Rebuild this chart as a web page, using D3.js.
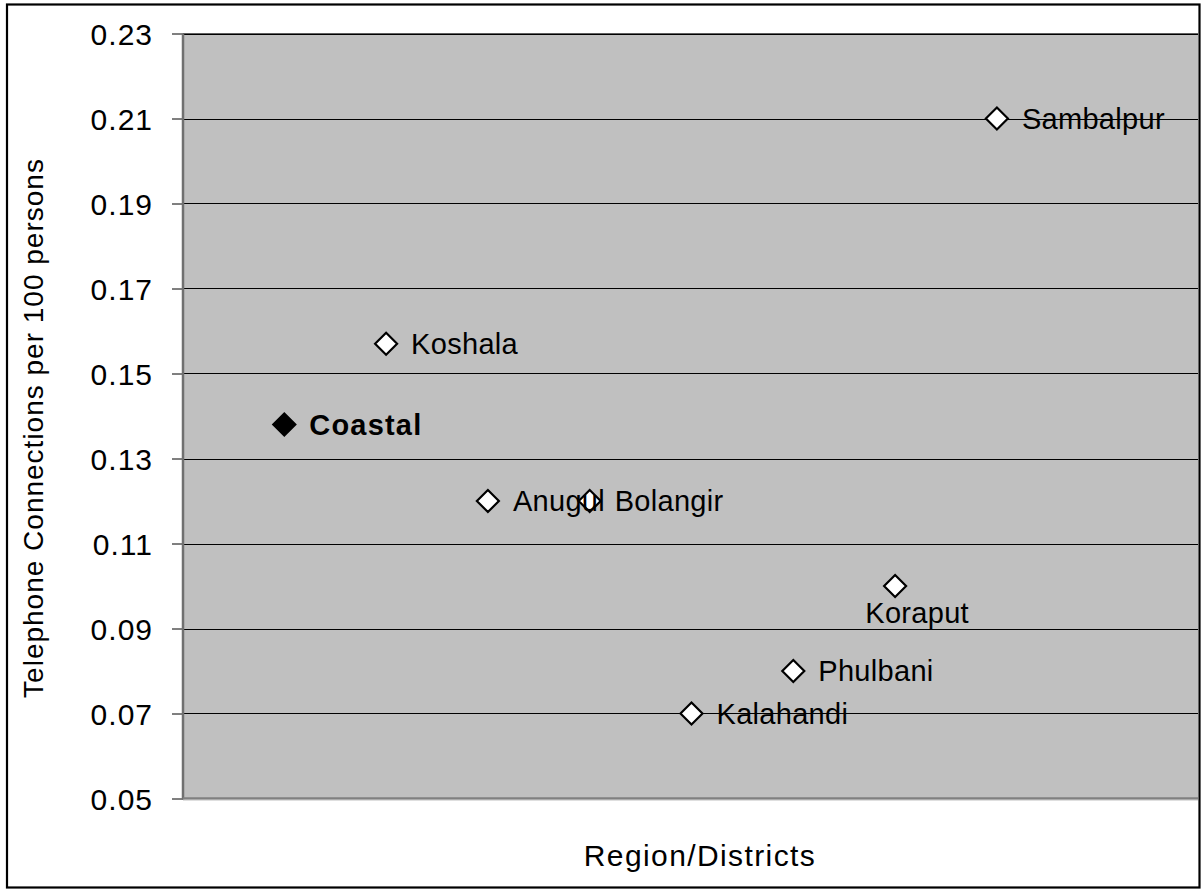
<!DOCTYPE html>
<html><head><meta charset="utf-8">
<script src="https://cdn.jsdelivr.net/npm/d3@7"></script>
<style>body{margin:0;background:#fff}</style>
</head><body>
<svg id="c" width="1203" height="890"></svg>
<script>
const categories = ["Coastal","Koshala","Anugul","Bolangir","Kalahandi","Phulbani","Koraput","Sambalpur"];
const values = [0.138,0.157,0.12,0.12,0.07,0.08,0.10,0.21];
const positions = [1,2,3,4,5,6,7,8];
const yTicks = [0.05,0.07,0.09,0.11,0.13,0.15,0.17,0.19,0.21,0.23];
const yTitle = "Telephone Connections per 100 persons";
const xTitle = "Region/Districts";

const svg = d3.select("#c");
const font = "Liberation Sans, Arial, sans-serif";
const L = 183, R = 1198, T = 33.5, B = 798.5;
const x = d3.scaleLinear().domain([0,10]).range([182.5,1200.5]);
const y = d3.scaleLinear().domain([0.05,0.23]).range([B,T]);

// outer frame
svg.append("rect").attr("x",7).attr("y",4.5).attr("width",1192.5).attr("height",883)
  .attr("fill","#fff").attr("stroke","#000").attr("stroke-width",2.2);

// plot area
svg.append("rect").attr("x",L).attr("y",T).attr("width",R-L).attr("height",B-T).attr("fill","#c0c0c0");

// gridlines
svg.append("g").selectAll("line").data(yTicks.slice(1)).join("line")
  .attr("x1",L).attr("x2",R).attr("y1",d=>Math.round(y(d))+0.5).attr("y2",d=>Math.round(y(d))+0.5)
  .attr("stroke","#000").attr("stroke-width",1);

// y axis
const yAxis = d3.axisLeft(y).tickValues(yTicks).tickFormat(d3.format(".2f")).tickSize(11).tickPadding(19);
const gy = svg.append("g").attr("transform",`translate(${L},0)`).call(yAxis);
gy.select(".domain").remove();
gy.selectAll(".tick line").attr("stroke","#000").attr("stroke-width",1);
gy.selectAll(".tick text").attr("font-family",font).attr("font-size",30).attr("fill","#000")
  .attr("letter-spacing","1px").attr("dy","0.35em");

// plot borders
svg.append("line").attr("x1",L).attr("x2",L).attr("y1",T).attr("y2",B+1).attr("stroke","#707070").attr("stroke-width",2.5);
svg.append("line").attr("x1",L).attr("x2",R).attr("y1",B).attr("y2",B).attr("stroke","#808080").attr("stroke-width",2.5);
svg.append("line").attr("x1",L).attr("x2",R).attr("y1",B+1.8).attr("y2",B+1.8).attr("stroke","#d8d8d8").attr("stroke-width",1);
svg.append("line").attr("x1",L).attr("x2",R).attr("y1",T).attr("y2",T).attr("stroke","#606060").attr("stroke-width",1);

// points
const diamond = s => `M0,${-s}L${s},0L0,${s}L${-s},0Z`;
const pts = categories.map((c,i)=>({c, v:values[i], p:positions[i]}));
svg.append("g").selectAll("path").data(pts).join("path")
  .attr("d",diamond(11))
  .attr("transform",d=>`translate(${x(d.p)},${y(d.v)})`)
  .attr("fill",d=>d.c==="Coastal"?"#000":"#fff")
  .attr("stroke","#000").attr("stroke-width",2.2).attr("stroke-linejoin","miter");

// labels
svg.append("g").selectAll("text").data(pts).join("text")
  .attr("x",d=>d.c==="Koraput"? x(d.p)+22 : x(d.p)+25)
  .attr("y",d=>d.c==="Koraput"? y(d.v)+37 : y(d.v))
  .attr("dy",d=>d.c==="Koraput"?"0":"0.35em")
  .attr("text-anchor",d=>d.c==="Koraput"?"middle":"start")
  .attr("font-family",font).attr("font-size",29)
  .attr("font-weight",d=>d.c==="Coastal"?"bold":"normal")
  .attr("letter-spacing",d=>d.c==="Coastal"?"1.2px":"0.3px")
  .attr("fill","#000").text(d=>d.c);

// axis titles
svg.append("text").attr("x",700).attr("y",866).attr("text-anchor","middle")
  .attr("font-family",font).attr("font-size",30).attr("letter-spacing","1.4px").text(xTitle);
svg.append("text").attr("transform","translate(43,428) rotate(-90)").attr("text-anchor","middle")
  .attr("font-family",font).attr("font-size",28).attr("letter-spacing","1px").text(yTitle);
</script>
</body></html>
